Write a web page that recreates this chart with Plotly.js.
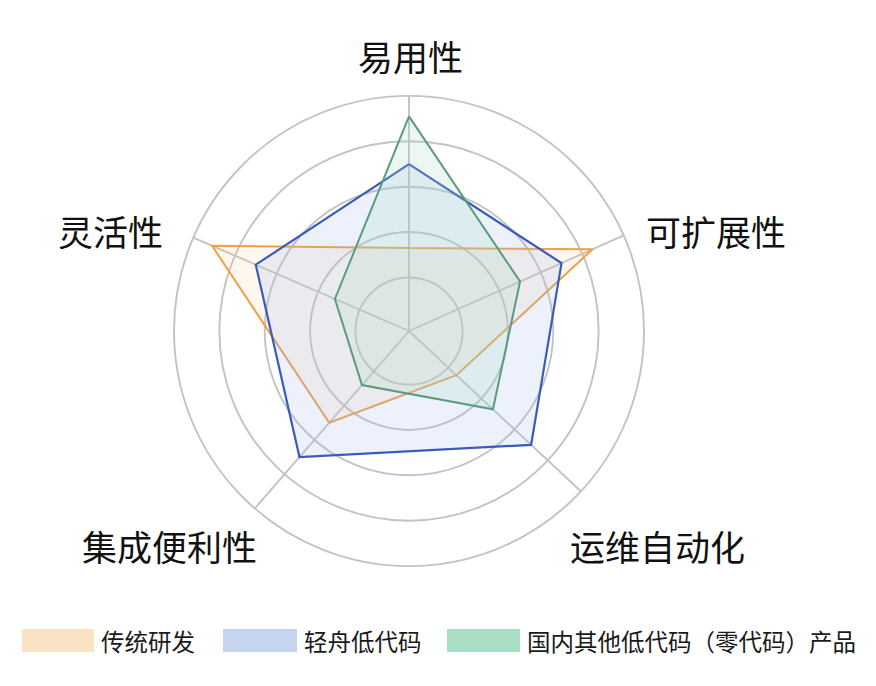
<!DOCTYPE html>
<html>
<head>
<meta charset="utf-8">
<script src="https://cdn.plot.ly/plotly-3.0.1.min.js"></script>
<style>
  html, body { margin: 0; padding: 0; background: #ffffff; }
  #chart { width: 876px; height: 686px; }
</style>
</head>
<body>
<div id="chart"></div>
<script>
// ---- data ----
const categories = ['易用性', '可扩展性', '运维自动化', '集成便利性', '灵活性'];
const seriesNames = ['传统研发', '轻舟低代码', '国内其他低代码（零代码）产品'];
const traditional = [1.65, 4.25, 1.25, 2.5, 4.55];
const qingzhou = [3.5, 3.5, 3.5, 3.5, 3.5];
const others = [4.55, 2.5, 2.35, 1.4, 1.6];

// ---- layout configuration (axis directions as drawn in the reference, degrees clockwise from top) ----
const axisAngles = [0, 66, 133, 221, 293.4];
const W = 876, H = 686;
const cx = 409, cy = 331, R = 235;
const labelCenters = [[410, 55], [716, 230], [657, 545], [169, 545], [110, 230]];

const lineColors = ['#EDA046', '#3A5BBA', '#5C9B7E'];
const fillColors = ['rgba(245,200,150,0.15)', 'rgba(160,185,235,0.2)', 'rgba(170,220,190,0.22)'];
const swatchColors = ['#FAE3C3', '#C5D4EF', '#A9DDC4'];
const lineWidths = [2, 2.2, 2];

const seriesValues = [traditional, qingzhou, others];

const traces = seriesValues.map((vals, i) => ({
  type: 'scatterpolar',
  name: seriesNames[i],
  r: vals.concat([vals[0]]),
  theta: axisAngles.concat([axisAngles[0]]),
  mode: 'lines',
  fill: 'toself',
  fillcolor: fillColors[i],
  line: { color: lineColors[i], width: lineWidths[i] },
  showlegend: false,
  hoverinfo: 'skip'
}));

const px = x => x / W;
const py = y => (H - y) / H;

const annotations = categories.map((c, i) => ({
  text: c,
  xref: 'paper', yref: 'paper',
  x: px(labelCenters[i][0]), y: py(labelCenters[i][1]),
  xanchor: 'center', yanchor: 'middle',
  showarrow: false,
  font: { size: 35, color: '#111111', family: '"Noto Sans CJK SC", "Noto Sans", sans-serif' }
}));

// legend (swatch + text)
const legendSwatchX = [[22, 94], [223, 297], [447, 520]];
const legendY = [629, 652];
const shapes = [];
seriesNames.forEach((n, i) => {
  shapes.push({
    type: 'rect', xref: 'paper', yref: 'paper',
    x0: px(legendSwatchX[i][0]), x1: px(legendSwatchX[i][1]),
    y0: py(legendY[1]), y1: py(legendY[0]),
    fillcolor: swatchColors[i], line: { width: 0 }
  });
  annotations.push({
    text: n,
    xref: 'paper', yref: 'paper',
    x: px(legendSwatchX[i][1] + 5), y: py((legendY[0] + legendY[1]) / 2),
    xanchor: 'left', yanchor: 'middle',
    showarrow: false,
    font: { size: 23.5, color: '#1a1a1a', family: '"Noto Sans CJK SC", "Noto Sans", sans-serif' }
  });
});

const layout = {
  width: W, height: H,
  margin: { l: 0, r: 0, t: 0, b: 0 },
  paper_bgcolor: '#ffffff',
  showlegend: false,
  polar: {
    domain: { x: [(cx - R) / W, (cx + R) / W], y: [(H - cy - R) / H, (H - cy + R) / H] },
    bgcolor: 'rgba(0,0,0,0)',
    radialaxis: {
      range: [-0.18, 5],
      tickvals: [1, 2, 3, 4, 5],
      showticklabels: false,
      ticks: '',
      showline: false,
      gridcolor: '#c3c3c3',
      gridwidth: 1.9
    },
    angularaxis: {
      type: 'linear',
      thetaunit: 'degrees',
      rotation: 90,
      direction: 'clockwise',
      tickvals: axisAngles,
      ticktext: categories,
      showticklabels: false,
      ticks: '',
      showgrid: true,
      gridcolor: '#c3c3c3',
      gridwidth: 1.9,
      showline: true,
      linecolor: '#c3c3c3',
      linewidth: 1.9
    }
  },
  annotations: annotations,
  shapes: shapes
};

Plotly.newPlot('chart', traces, layout, { displayModeBar: false, staticPlot: true });
</script>
</body>
</html>
